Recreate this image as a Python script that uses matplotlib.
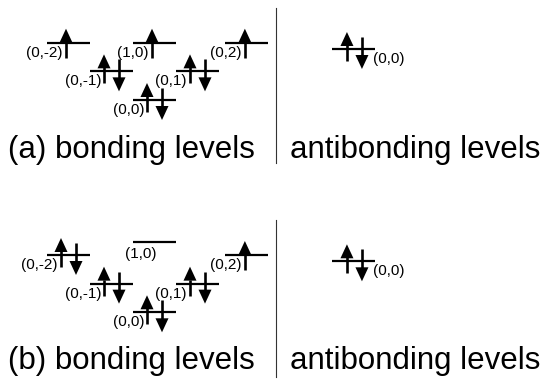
import matplotlib

matplotlib.use("Agg")
import matplotlib.pyplot as plt

plt.rcParams["font.family"] = ["Liberation Sans", "DejaVu Sans"]

# level labels (n, m), column index m and energy tier for each panel
LEVELS = ["(0,-2)", "(0,-1)", "(0,0)", "(1,0)", "(0,1)", "(0,2)"]
COLUMN = [-2, -1, 0, 0, 1, 2]
ENERGY_A = [2, 1, 0, 2, 1, 2]
ENERGY_B = [2, 1, 0, 2.45, 1, 2]
SPIN_UP_A = [1, 1, 1, 1, 1, 1]
SPIN_DOWN_A = [0, 1, 1, 0, 1, 0]
SPIN_UP_B = [1, 1, 1, 0, 1, 1]
SPIN_DOWN_B = [1, 1, 1, 0, 1, 0]

ANTI_LABEL = "(0,0)"
ANTI_UP = [1, 1]
ANTI_DOWN = [1, 1]

PANEL_TAGS = ["(a)", "(b)"]

# layout (pixels)
W, H = 546, 379
SX, SY = 43.0, 28.65          # px per column, px per energy step
ORIGIN_X = 154.0              # px of column 0
ORIGIN_Y = [100.0, 312.3]     # px of energy 0 for each panel
COL_NUDGE = {"(0,2)": 0.16}
ANTI_COL, ANTI_E = 4.65, 1.78
HEAD_L, HEAD_HW = 14.0, 6.5
LW = 1.6
STEM_LW = 1.9


def px(d):
    return d / SX


def py(d):
    return d / SY


def arrow(ax, x, tail, tip):
    sign = 1 if tip > tail else -1
    base = tip - sign * py(HEAD_L)
    ax.plot([x, x], [tail, base + sign * py(1)], color="black", lw=STEM_LW,
            solid_capstyle="butt", zorder=3)
    ax.fill([x - px(HEAD_HW), x + px(HEAD_HW), x], [base, base, tip],
            color="black", lw=0, zorder=3)


def level(ax, c, e, up, down, label, side="left"):
    ax.plot([c - 0.5, c + 0.5], [e, e], color="black", lw=LW,
            solid_capstyle="butt", zorder=2)
    if up and down:
        xu, xd = c - px(7), c + px(8)
        arrow(ax, xu, e - py(12), e + py(17))
        arrow(ax, xd, e + py(12), e - py(20))
    elif up:
        xu = c - px(2)
        arrow(ax, xu, e - py(15), e + py(14))
    if side == "left":
        if up:
            lx, ly = xu - px(3), e - py(10)
        else:
            lx, ly = c + px(2), e - py(12)
        ax.text(lx, ly, label, ha="right", va="center", fontsize=11)
    else:
        ax.text(c + px(19), e - py(10), label, ha="left", va="center",
                fontsize=11)


fig = plt.figure(figsize=(W / 100, H / 100), dpi=100)
over = fig.add_axes([0, 0, 1, 1])
over.set_xlim(0, W)
over.set_ylim(H, 0)
over.axis("off")

panels = [
    (ENERGY_A, SPIN_UP_A, SPIN_DOWN_A),
    (ENERGY_B, SPIN_UP_B, SPIN_DOWN_B),
]
for i, (energy, ups, downs) in enumerate(panels):
    ax = fig.add_axes([0, 0, 1, 1])
    ax.axis("off")
    ax.set_xlim(-ORIGIN_X / SX, (W - ORIGIN_X) / SX)
    ax.set_ylim((ORIGIN_Y[i] - H) / SY, ORIGIN_Y[i] / SY)
    for lab, col, e, u, d in zip(LEVELS, COLUMN, energy, ups, downs):
        level(ax, col + COL_NUDGE.get(lab, 0), e, u, d, lab)
    level(ax, ANTI_COL, ANTI_E, ANTI_UP[i], ANTI_DOWN[i], ANTI_LABEL,
          side="right")

# captions and separators
for i, tag in enumerate(PANEL_TAGS):
    base = [158, 369][i]
    over.text(8, base, f"{tag} bonding levels", fontsize=22.5, va="baseline")
    over.text(290, base, "antibonding levels", fontsize=22.5, va="baseline")
    top, bot = [(8, 163), (220, 377)][i]
    over.plot([276, 276], [top, bot], color="#333333", lw=0.8)

fig.savefig("out.png", dpi=100)
